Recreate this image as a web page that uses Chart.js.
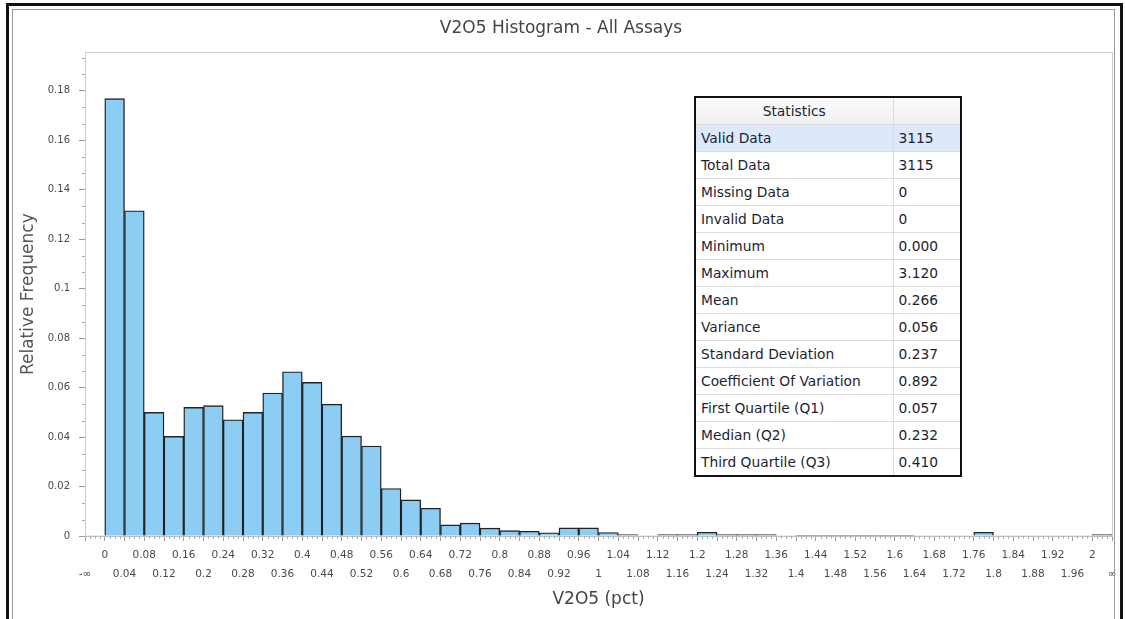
<!DOCTYPE html>
<html>
<head>
<meta charset="utf-8">
<script src="https://cdn.jsdelivr.net/npm/chart.js@4.4.1/dist/chart.umd.min.js"></script>
<style>
  html, body { margin: 0; padding: 0; background: #fff; }
  #wrap { position: relative; width: 1125px; height: 619px; overflow: hidden; }
  #myHist { position: absolute; left: 0; top: 0; }
  .frameOuter { position: absolute; left: 6px; top: 3px; width: 1111px; height: 700px; border: 3px solid #111; }
  .frameInner { position: absolute; left: 12px; top: 9px; width: 1101px; height: 700px; border: 1px solid #9a9a9a; }
  #jsStatsTable {
    position: absolute; left: 694px; top: 96px; width: 266px;
    border-collapse: collapse; table-layout: fixed; background: #fff;
    border: 2px solid #111; font: 13.8px "DejaVu Sans", sans-serif; color: #1e1e32;
  }
  #jsStatsTable td { height: 26px; padding: 0 0 0 5px; border: 1px solid #dcdcdc; white-space: nowrap; line-height: 26px; overflow: hidden; }
  #jsStatsTable tr.head td { background: linear-gradient(#fbfbfb, #f0f0f0); text-align: center; padding: 0; }
  #jsStatsTable tr.sel td { background: #dde8fb; }
</style>
</head>
<body>
<div id="wrap">
  <canvas id="myHist" width="1125" height="619"></canvas>
  <div class="frameOuter"></div>
  <div class="frameInner"></div>
  <table id="jsStatsTable">
    <colgroup><col style="width:198px"><col style="width:68px"></colgroup>
    <tbody id="jsStatsBody"></tbody>
  </table>
</div>
<script>
// bin edges, -inf / +inf catch the under and overflow bins
const edgeLabels = ['-∞', '0', '0.04', '0.08', '0.12', '0.16', '0.2', '0.24', '0.28', '0.32', '0.36',
  '0.4', '0.44', '0.48', '0.52', '0.56', '0.6', '0.64', '0.68', '0.72', '0.76', '0.8', '0.84', '0.88',
  '0.92', '0.96', '1', '1.04', '1.08', '1.12', '1.16', '1.2', '1.24', '1.28', '1.32', '1.36', '1.4',
  '1.44', '1.48', '1.52', '1.56', '1.6', '1.64', '1.68', '1.72', '1.76', '1.8', '1.84', '1.88', '1.92',
  '1.96', '2', '∞'];

// relative frequency of each bin (52 bins)
const relFreq = [0,
  0.1768, 0.1315, 0.0500, 0.0403, 0.0520, 0.0527, 0.0470, 0.0500, 0.0578, 0.0664,
  0.0621, 0.0533, 0.0404, 0.0364, 0.0192, 0.0146, 0.0112, 0.0045, 0.0052, 0.0032,
  0.0022, 0.0019, 0.0013, 0.0033, 0.0033, 0.0014, 0.0006, 0, 0.0006, 0.0006,
  0.0015, 0.0006, 0.0006, 0.0006, 0, 0.0003, 0.0003, 0.0003, 0.0003, 0.0003,
  0.0003, 0, 0, 0, 0.0015, 0, 0, 0, 0, 0,
  0.0006];

const yTicks = [0, 0.02, 0.04, 0.06, 0.08, 0.1, 0.12, 0.14, 0.16, 0.18];
const yMax = 0.1955;

const statNames = ['Valid Data', 'Total Data', 'Missing Data', 'Invalid Data', 'Minimum', 'Maximum', 'Mean',
  'Variance', 'Standard Deviation', 'Coefficient Of Variation', 'First Quartile (Q1)', 'Median (Q2)', 'Third Quartile (Q3)'];
const statValues = ['3115', '3115', '0', '0', '0.000', '3.120', '0.266', '0.056', '0.237', '0.892', '0.057', '0.232', '0.410'];

const statsBody = document.getElementById('jsStatsBody');
let rows = '<tr class="head"><td>Statistics</td><td></td></tr>';
statNames.forEach((name, i) => {
    rows += `<tr class="${i === 0 ? 'sel' : ''}"><td>${name}</td><td>${statValues[i]}</td></tr>`;
});
statsBody.innerHTML = rows;

// plot frame + minor ticks, drawn under the bars
const plotFrame = {
    id: 'plotFrame',
    beforeDatasetsDraw(chart) {
        const { ctx, chartArea: a, scales: { x, y } } = chart;
        ctx.save();
        ctx.lineWidth = 1;
        ctx.strokeStyle = '#cdcdcd';
        ctx.strokeRect(Math.round(a.left) + 0.5, Math.round(a.top) + 0.5, a.right - a.left, a.bottom - a.top);
        ctx.strokeStyle = '#b0b0b0';
        ctx.beginPath();
        for (let i = 0; i < edgeLabels.length - 1; i++) {
            for (let q = 1; q < 4; q++) {
                const px = Math.round(x.getPixelForValue(i + q / 4)) + 0.5;
                ctx.moveTo(px, a.bottom);
                ctx.lineTo(px, a.bottom + 3);
            }
        }
        yTicks.forEach(v => {
            for (let k = 1; k < 3; k++) {
                const val = v + 0.02 * k / 3;
                if (val > yMax) continue;
                const py = Math.round(y.getPixelForValue(val)) + 0.5;
                ctx.moveTo(a.left - 3, py);
                ctx.lineTo(a.left, py);
            }
        });
        ctx.stroke();
        ctx.restore();
    }
};

const histCtx = document.getElementById('myHist').getContext('2d');
const histChart = new Chart(histCtx, {
    type: 'bar',
    data: {
        datasets: [{
            data: relFreq.map((v, i) => ({ x: i + 0.5, y: v })),
            backgroundColor: '#8dcdf4',
            borderColor: '#222',
            borderWidth: 1.4,
            barPercentage: 1,
            categoryPercentage: 1
        }]
    },
    options: {
        responsive: false,
        animation: false,
        devicePixelRatio: 1,
        layout: { padding: { left: 10, right: 13, top: 0, bottom: 0 } },
        plugins: {
            legend: { display: false },
            tooltip: { enabled: false },
            title: {
                display: true,
                text: 'V2O5 Histogram - All Assays',
                color: '#444',
                font: { family: 'DejaVu Sans', size: 17, weight: 'normal' },
                padding: { top: 18, bottom: 14 }
            }
        },
        scales: {
            x: {
                type: 'linear',
                min: 0,
                max: edgeLabels.length - 1,
                offset: false,
                afterBuildTicks: s => { s.ticks = edgeLabels.map((l, i) => ({ value: i })); },
                afterFit: s => { s.height = 83; s.paddingLeft = 0; s.paddingRight = 0; },
                grid: { drawOnChartArea: false, tickLength: 5, color: '#9a9a9a', offset: false },
                border: { color: '#a8a8a8' },
                ticks: {
                    autoSkip: false, maxRotation: 0, minRotation: 0, padding: 5, color: '#4a4a4a',
                    font: { family: 'DejaVu Sans', size: 10.5, lineHeight: 1.8 },
                    callback: v => (v % 2 ? [edgeLabels[v], ''] : ['', edgeLabels[v]])
                },
                title: {
                    display: true, text: 'V2O5 (pct)', color: '#444',
                    font: { family: 'DejaVu Sans', size: 17 }, padding: { top: 0, bottom: 9 }
                }
            },
            y: {
                min: 0,
                max: yMax,
                afterBuildTicks: s => { s.ticks = yTicks.map(v => ({ value: v })); },
                afterFit: s => { s.width = 75; s.paddingTop = 0; s.paddingBottom = 0; },
                grid: { drawOnChartArea: false, tickLength: 6, color: '#9a9a9a' },
                border: { color: '#a8a8a8' },
                ticks: {
                    padding: 9, color: '#4a4a4a',
                    font: { family: 'DejaVu Sans', size: 10 },
                    callback: v => String(+v.toFixed(2))
                },
                title: {
                    display: true, text: 'Relative Frequency', color: '#555',
                    font: { family: 'DejaVu Sans', size: 17 }, padding: { top: 8, bottom: 0 }
                }
            }
        }
    },
    plugins: [plotFrame]
});
</script>
</body>
</html>
